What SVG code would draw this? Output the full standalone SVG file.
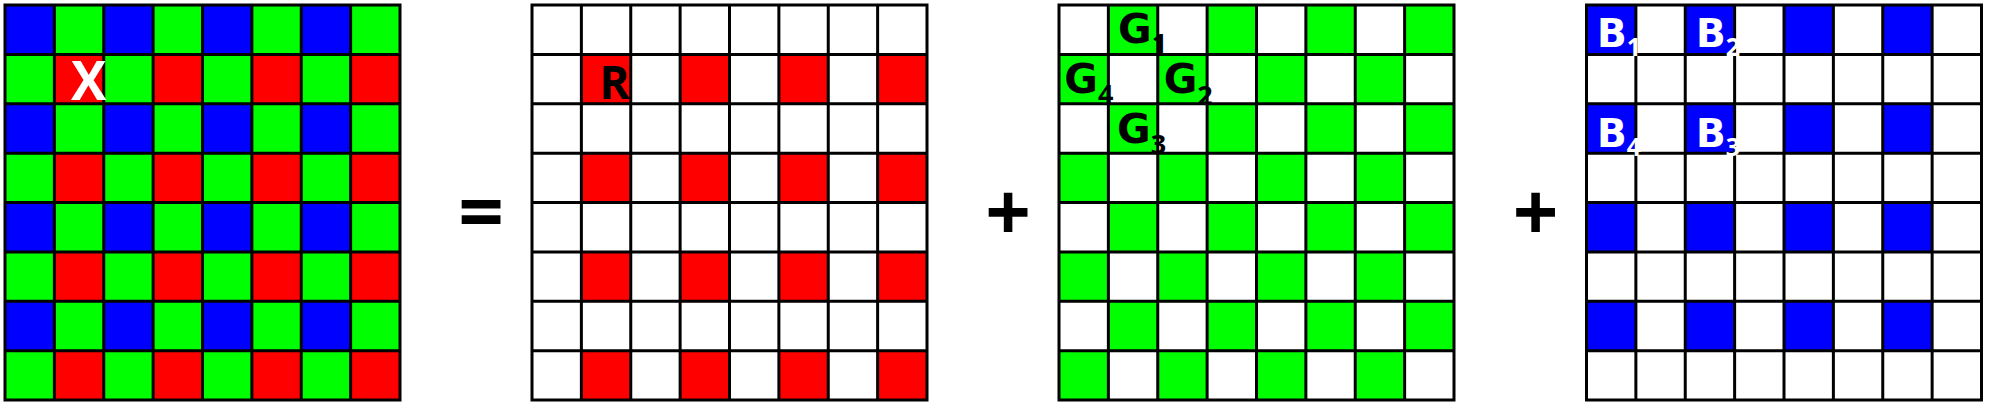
<svg xmlns="http://www.w3.org/2000/svg" width="1990" height="405" viewBox="0 0 1990 405">
  <style>
    .lbl { font-family: "Open Sans", "DejaVu Sans", sans-serif; font-weight: 700; }
    .wide { font-family: "DejaVu Sans", "Open Sans", sans-serif; font-weight: 700; }
    .sub { font-family: "Open Sans", "DejaVu Sans", sans-serif; font-weight: 700; }
    .op { font-family: "Open Sans", "DejaVu Sans", sans-serif; font-weight: 700; font-size: 80px; fill: #000; text-anchor: middle; }
    .gridlines { fill: none; stroke: #000; stroke-width: 3; stroke-linecap: square; }
  </style>
  <defs>
    <pattern id="patBayer" patternUnits="userSpaceOnUse" x="0" y="0" width="98.75" height="98.75">
      <rect x="0" y="0" width="49.375" height="49.375" fill="#0000ff"/>
      <rect x="49.375" y="0" width="49.375" height="49.375" fill="#00ff00"/>
      <rect x="0" y="49.375" width="49.375" height="49.375" fill="#00ff00"/>
      <rect x="49.375" y="49.375" width="49.375" height="49.375" fill="#ff0000"/>
    </pattern>
    <pattern id="patR" patternUnits="userSpaceOnUse" x="0" y="0" width="98.75" height="98.75">
      <rect x="0" y="0" width="98.75" height="98.75" fill="#ffffff"/>
      <rect x="49.375" y="49.375" width="49.375" height="49.375" fill="#ff0000"/>
    </pattern>
    <pattern id="patG" patternUnits="userSpaceOnUse" x="0" y="0" width="98.75" height="98.75">
      <rect x="0" y="0" width="98.75" height="98.75" fill="#ffffff"/>
      <rect x="49.375" y="0" width="49.375" height="49.375" fill="#00ff00"/>
      <rect x="0" y="49.375" width="49.375" height="49.375" fill="#00ff00"/>
    </pattern>
    <pattern id="patB" patternUnits="userSpaceOnUse" x="0" y="0" width="98.75" height="98.75">
      <rect x="0" y="0" width="98.75" height="98.75" fill="#ffffff"/>
      <rect x="0" y="0" width="49.375" height="49.375" fill="#0000ff"/>
    </pattern>
    <path id="lines" class="gridlines" d="M0,0V395M49.375,0V395M98.75,0V395M148.125,0V395M197.5,0V395M246.875,0V395M296.25,0V395M345.625,0V395M395,0V395M0,0H395M0,49.375H395M0,98.75H395M0,148.125H395M0,197.5H395M0,246.875H395M0,296.25H395M0,345.625H395M0,395H395"/>
  </defs>
  <rect x="0" y="0" width="1990" height="405" fill="#ffffff"/>

  <g id="grid-bayer" transform="translate(5,5)">
    <rect x="0" y="0" width="395" height="395" fill="url(#patBayer)"/>
    <use href="#lines"/>
    <text class="lbl" x="66" y="95" font-size="53" fill="#ffffff">X</text>
  </g>

  <g id="op-equals">
    <text class="op" x="481" y="241">=</text>
  </g>

  <g id="grid-red" transform="translate(532,5)">
    <rect x="0" y="0" width="395" height="395" fill="url(#patR)"/>
    <use href="#lines"/>
    <text class="lbl" x="67.3" y="94.3" font-size="46" fill="#000000">R</text>
  </g>

  <g id="op-plus-1">
    <text class="op" x="1008" y="241">+</text>
  </g>

  <g id="grid-green" transform="translate(1059,5)">
    <rect x="0" y="0" width="395" height="395" fill="url(#patG)"/>
    <use href="#lines"/>
    <text class="wide" x="59" y="37.5" font-size="41" fill="#000000">G<tspan class="sub" font-size="27" dy="10.5">1</tspan></text>
    <text class="wide" x="5.3" y="88" font-size="41" fill="#000000">G<tspan class="sub" font-size="27" dy="10.5">4</tspan></text>
    <text class="wide" x="104.7" y="88" font-size="41" fill="#000000">G<tspan class="sub" font-size="27" dy="11.5">2</tspan></text>
    <text class="wide" x="58" y="137.5" font-size="41" fill="#000000">G<tspan class="sub" font-size="27" dy="11.5">3</tspan></text>
  </g>

  <g id="op-plus-2">
    <text class="op" x="1535.5" y="241">+</text>
  </g>

  <g id="grid-blue" transform="translate(1586.5,5)">
    <rect x="0" y="0" width="395" height="395" fill="url(#patB)"/>
    <use href="#lines"/>
    <text class="wide" x="10.5" y="41.7" font-size="39" fill="#ffffff">B<tspan class="sub" font-size="25" dy="9.5">1</tspan></text>
    <text class="wide" x="109.5" y="41.7" font-size="39" fill="#ffffff">B<tspan class="sub" font-size="25" dy="9.5">2</tspan></text>
    <text class="wide" x="10.5" y="141.7" font-size="39" fill="#ffffff">B<tspan class="sub" font-size="25" dy="9.5">4</tspan></text>
    <text class="wide" x="109.5" y="141.7" font-size="39" fill="#ffffff">B<tspan class="sub" font-size="25" dy="9.5">3</tspan></text>
  </g>

  <g id="connectors"/>
</svg>
